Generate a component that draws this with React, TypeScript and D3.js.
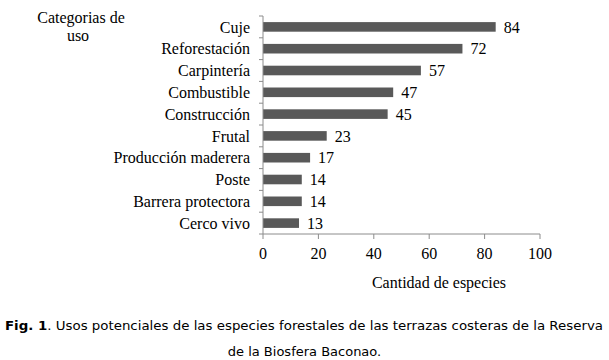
import React, { useEffect, useRef } from 'react';
import * as d3 from 'd3';

const categories = [
  'Cuje', 'Reforestación', 'Carpintería', 'Combustible', 'Construcción',
  'Frutal', 'Producción maderera', 'Poste', 'Barrera protectora', 'Cerco vivo',
];
const values = [84, 72, 57, 47, 45, 23, 17, 14, 14, 13];
const xTicks = [0, 20, 40, 60, 80, 100];

const App: React.FC = () => {
  const svgRef = useRef<SVGSVGElement>(null);

  useEffect(() => {
    if (!svgRef.current) return;
    const width = 609;
    const svg = d3.select(svgRef.current);
    svg.selectAll('*').remove();

    const serif = '"Liberation Serif", "Times New Roman", serif';
    const axisColor = '#8c8c8c';
    const fs = 16;

    const x = d3.scaleLinear().domain([0, 100]).range([263, 540]);
    const y = d3.scaleBand().domain(categories).range([16, 234]).paddingInner(0.56).paddingOuter(0.28);

    // bars
    svg.append('g')
      .selectAll('rect')
      .data(categories)
      .join('rect')
      .attr('x', x(0))
      .attr('y', d => y(d)!)
      .attr('width', (d, i) => x(values[i]) - x(0))
      .attr('height', y.bandwidth())
      .attr('fill', '#595959');

    // value labels
    svg.append('g')
      .selectAll('text')
      .data(categories)
      .join('text')
      .attr('x', (d, i) => x(values[i]) + 8)
      .attr('y', d => y(d)! + y.bandwidth() / 2)
      .attr('dy', '0.35em')
      .attr('font-family', serif)
      .attr('font-size', fs)
      .attr('fill', '#000')
      .text((d, i) => values[i]);

    // y axis
    const yAxis = svg.append('g');
    yAxis.append('line')
      .attr('x1', x(0)).attr('x2', x(0))
      .attr('y1', 16).attr('y2', 234)
      .attr('stroke', axisColor);
    const boundaries = d3.range(categories.length + 1).map(i => 16 + i * (218 / categories.length));
    yAxis.selectAll('line.tick')
      .data(boundaries)
      .join('line')
      .attr('class', 'tick')
      .attr('x1', x(0) - 4).attr('x2', x(0))
      .attr('y1', d => d).attr('y2', d => d)
      .attr('stroke', axisColor);
    yAxis.selectAll('text')
      .data(categories)
      .join('text')
      .attr('x', 250)
      .attr('y', d => y(d)! + y.bandwidth() / 2)
      .attr('dy', '0.35em')
      .attr('text-anchor', 'end')
      .attr('font-family', serif)
      .attr('font-size', fs)
      .text(d => d);

    // x axis
    const xAxis = svg.append('g');
    xAxis.append('line')
      .attr('x1', x(0)).attr('x2', x(100))
      .attr('y1', 234).attr('y2', 234)
      .attr('stroke', axisColor);
    xAxis.selectAll('line.tick')
      .data(xTicks)
      .join('line')
      .attr('class', 'tick')
      .attr('x1', d => x(d)).attr('x2', d => x(d))
      .attr('y1', 234).attr('y2', 239)
      .attr('stroke', axisColor);
    xAxis.selectAll('text')
      .data(xTicks)
      .join('text')
      .attr('x', d => x(d))
      .attr('y', 253)
      .attr('dy', '0.35em')
      .attr('text-anchor', 'middle')
      .attr('font-family', serif)
      .attr('font-size', fs)
      .text(d => d);

    svg.append('text')
      .attr('x', 439).attr('y', 282).attr('dy', '0.35em')
      .attr('text-anchor', 'middle')
      .attr('font-family', serif).attr('font-size', fs)
      .text('Cantidad de especies');

    // y title
    const yt = svg.append('text')
      .attr('text-anchor', 'middle')
      .attr('font-family', serif).attr('font-size', fs);
    yt.append('tspan').attr('x', 81).attr('y', 17).attr('dy', '0.35em').text('Categorias de');
    yt.append('tspan').attr('x', 78).attr('y', 35).attr('dy', '0.35em').text('uso');

    // caption
    const sans = 'Verdana, "DejaVu Sans", sans-serif';
    const cap1 = svg.append('text')
      .attr('x', 5).attr('y', 325).attr('dy', '0.35em')
      .attr('font-family', sans).attr('font-size', 13)
      .attr('textLength', 598).attr('lengthAdjust', 'spacingAndGlyphs');
    cap1.append('tspan').attr('font-weight', 'bold').text('Fig. 1');
    cap1.append('tspan').text('. Usos potenciales de las especies forestales de las terrazas costeras de la Reserva');
    svg.append('text')
      .attr('x', width / 2).attr('y', 351).attr('dy', '0.35em')
      .attr('text-anchor', 'middle')
      .attr('font-family', sans).attr('font-size', 13)
      .text('de la Biosfera Baconao.');
  }, []);

  return (
    <svg ref={svgRef} width={609} height={360}
      style={{ position: 'absolute', left: 0, top: 0, background: '#fff' }} />
  );
};

export default App;
